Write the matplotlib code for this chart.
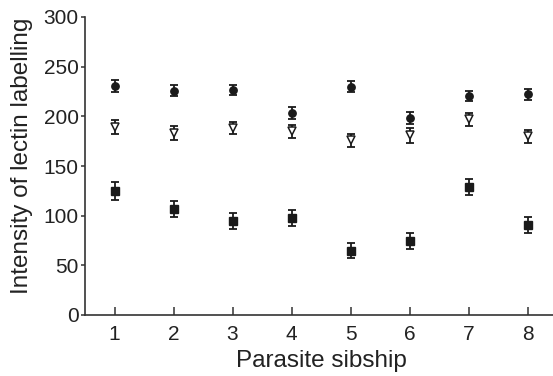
import matplotlib
matplotlib.use("Agg")
import matplotlib.pyplot as plt

plt.rcParams['font.family'] = ['Liberation Sans', 'DejaVu Sans']

sibship = [1, 2, 3, 4, 5, 6, 7, 8]
circle_vals = [230.5, 226, 226.5, 203, 230, 198.5, 220.5, 222]
circle_err = [6, 5.5, 5.5, 6, 5.5, 6, 5.5, 5.5]
tri_vals = [189, 183.5, 188.5, 185, 176, 181, 197, 180]
tri_err = [7, 7, 6, 6.5, 6.5, 7.5, 6.5, 6.5]
sq_vals = [124.5, 106.5, 95, 98, 64.5, 74.5, 128.5, 91]
sq_err = [9, 8, 8, 8, 7.5, 8, 8, 8]

fig = plt.figure(figsize=(5.53, 3.76), dpi=100)
ax = fig.add_axes([85/553, 61/376, 472/553, 298/376])

col = '#1a1a1a'
common = dict(fmt='none', ecolor=col, elinewidth=1.3, capsize=3, capthick=1.3)
ax.errorbar(sibship, circle_vals, yerr=circle_err, **common)
ax.errorbar(sibship, tri_vals, yerr=tri_err, **common)
ax.errorbar(sibship, sq_vals, yerr=sq_err, **common)
ax.plot(sibship, circle_vals, 'o', color=col, markersize=5.3, linestyle='none')
ax.plot(sibship, tri_vals, 'v', markerfacecolor='white', markeredgecolor=col,
        markeredgewidth=1.1, markersize=6, linestyle='none')
ax.plot(sibship, sq_vals, 's', color=col, markersize=5.3, linestyle='none')

ax.set_xlim(0.5, 8.5)
ax.set_ylim(0, 300)
ax.set_xticks(sibship)
ax.set_yticks([0, 50, 100, 150, 200, 250, 300])
for s in ['top', 'right']:
    ax.spines[s].set_visible(False)
for s in ['left', 'bottom']:
    ax.spines[s].set_color('#333333')
    ax.spines[s].set_linewidth(1.2)
ax.tick_params(axis='x', direction='in', length=6, width=1.1, colors='#333333',
               labelsize=15, labelcolor='#222222', pad=7)
ax.tick_params(axis='y', direction='out', length=3, width=1.1, colors='#333333',
               labelsize=15, labelcolor='#222222', pad=1.5)
ax.set_xlabel('Parasite sibship', fontsize=17.5, color='#222222')
ax.set_ylabel('Intensity of lectin labelling', fontsize=17.5, color='#222222')
ax.xaxis.set_label_coords(0.5, -(350 - 315) / 298)
ax.yaxis.set_label_coords(-(85 - 33) / 472, (315 - 156) / 298)

fig.savefig('out.png', dpi=100)
